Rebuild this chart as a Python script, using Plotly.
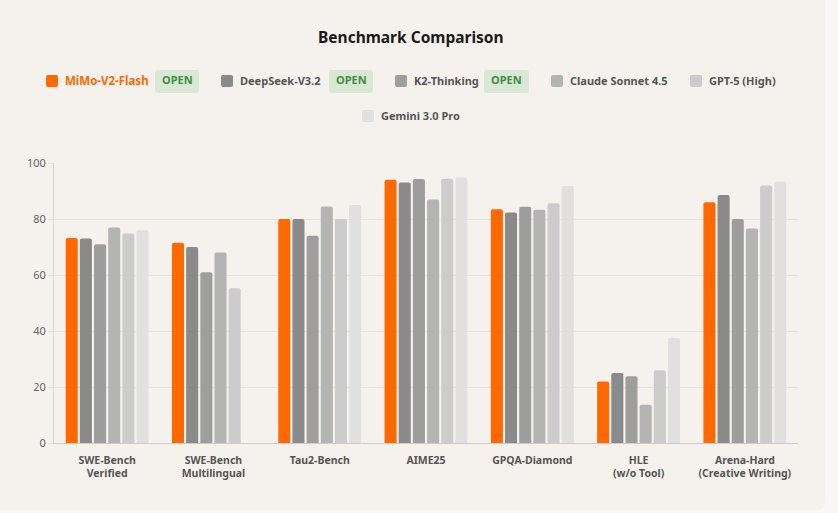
import plotly.graph_objects as go

W = 838
H = 513
FONT = "Noto Sans"
# plot area in px, paper coords are relative to this
LEFT, RIGHT, TOP, BOTTOM = 54, 798, 163, 443

benchmarks = ["SWE-Bench<br>Verified", "SWE-Bench<br>Multilingual", "Tau2-Bench", "AIME25",
              "GPQA-Diamond", "HLE<br>(w/o Tool)", "Arena-Hard<br>(Creative Writing)"]

models = ["MiMo-V2-Flash", "DeepSeek-V3.2", "K2-Thinking", "Claude Sonnet 4.5", "GPT-5 (High)", "Gemini 3.0 Pro"]
colors = ["#ff6900", "#8a8a8a", "#9e9e9e", "#b4b4b4", "#cccccc", "#e0e0e0"]

mimo = [73.2, 71.5, 80, 94, 83.5, 22, 86]
deepseek = [73, 70, 80, 93, 82.3, 25, 88.6]
k2 = [71, 61, 74, 94.3, 84.4, 23.8, 80]
claude = [77, 68, 84.5, 87, 83.3, 13.7, 76.6]
gpt5 = [74.8, 55.3, 80, 94.4, 85.6, 26, 92]
gemini = [76, None, 85, 94.8, 91.8, 37.5, 93.4]
series = [mimo, deepseek, k2, claude, gpt5, gemini]

y_ticks = [0, 20, 40, 60, 80, 100]

# legend is drawn by hand because of the OPEN badges
# model, swatch left, text left, badge left/right, row centre (all px from top left)
legend_rows = [
    (0, 46, 65, 155, 199, 81),
    (1, 221, 240, 329, 373, 81),
    (2, 395, 414, 484, 529, 81),
    (3, 551, 570, None, None, 81),
    (4, 690, 709, None, None, 81),
    (5, 362, 381, None, None, 116),
]

fig = go.Figure()
for name, vals, col in zip(models, series, colors):
    fig.add_trace(go.Bar(name=name, x=benchmarks, y=vals, marker_color=col,
                         marker_line_width=0, marker_cornerradius=2))


def px_x(v):
    return (v - LEFT) / (RIGHT - LEFT)


def px_y(v):
    return (BOTTOM - v) / (BOTTOM - TOP)


def round_rect(x0, y0, x1, y1, r):
    return (f"M {px_x(x0 + r)} {px_y(y0)} L {px_x(x1 - r)} {px_y(y0)} Q {px_x(x1)} {px_y(y0)} {px_x(x1)} {px_y(y0 + r)} "
            f"L {px_x(x1)} {px_y(y1 - r)} Q {px_x(x1)} {px_y(y1)} {px_x(x1 - r)} {px_y(y1)} "
            f"L {px_x(x0 + r)} {px_y(y1)} Q {px_x(x0)} {px_y(y1)} {px_x(x0)} {px_y(y1 - r)} "
            f"L {px_x(x0)} {px_y(y0 + r)} Q {px_x(x0)} {px_y(y0)} {px_x(x0 + r)} {px_y(y0)} Z")


def label(text, x, y, size, color, xanchor="center"):
    return dict(text=f"<b>{text}</b>", x=px_x(x), y=px_y(y), xref="paper", yref="paper",
                xanchor=xanchor, yanchor="middle", showarrow=False, borderpad=0, borderwidth=0,
                font=dict(family=FONT, size=size, color=color))


shapes = [
    # card behind everything
    dict(type="path", xref="paper", yref="paper", layer="below", line_width=0, fillcolor="#f5f2ed",
         path=round_rect(-20, -20, 825, 510, 8)),
]
annotations = [label("Benchmark Comparison", 411, 37, 15.5, "#1a1a1a")]

for idx, sw, tx, b0, b1, cy in legend_rows:
    shapes.append(dict(type="path", xref="paper", yref="paper", line_width=0, fillcolor=colors[idx],
                       path=round_rect(sw, cy - 6, sw + 12, cy + 6, 2)))
    # MiMo is the highlighted one, a bit larger and orange
    text_col = "#ff6900" if idx == 0 else "#555555"
    text_size = 11.5 if idx == 0 else 11
    annotations.append(label(models[idx], tx, cy, text_size, text_col, xanchor="left"))
    if b0 is not None:
        shapes.append(dict(type="path", xref="paper", yref="paper", line_width=0, fillcolor="#d9e8d5",
                           path=round_rect(b0, cy - 11, b1, cy + 12, 3)))
        annotations.append(label("OPEN", (b0 + b1) / 2, cy - 1, 11, "#3f8f3f"))

fig.update_layout(
    width=W, height=H,
    barmode="group", bargap=0.2, bargroupgap=0.15,
    showlegend=False,
    paper_bgcolor="#f9f7f3", plot_bgcolor="rgba(0,0,0,0)",
    margin=dict(l=LEFT, r=W - RIGHT, t=TOP, b=H - BOTTOM, autoexpand=False),
    font=dict(family=FONT),
    shapes=shapes, annotations=annotations,
)
fig.update_xaxes(showgrid=False, ticks="", showline=True, linecolor="#cfccc6", linewidth=1,
                 ticklabelstandoff=7,
                 tickfont=dict(family=FONT, size=10.5, color="#555555", weight="bold"))
fig.update_yaxes(range=[0, 100], tickvals=y_ticks, showgrid=True, gridcolor="#e6e3dd", gridwidth=1,
                 zeroline=False, showline=True, linecolor="#dcd9d3", linewidth=1,
                 ticks="outside", ticklen=5, tickcolor="#e6e3dd",
                 tickfont=dict(family=FONT, size=11, color="#666666"))

fig.write_html("out.html", config={"displayModeBar": False}, post_script="document.body.style.margin='0';")
